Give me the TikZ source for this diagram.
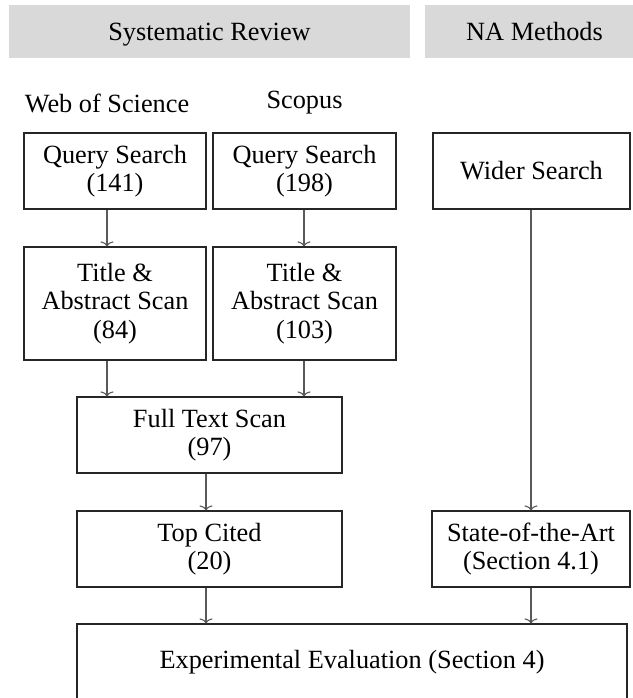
\documentclass[tikz,border=0pt]{standalone}
\usepackage{fontspec}
\setmainfont{Liberation Serif}
\usetikzlibrary{arrows.meta}
\definecolor{hdrgray}{HTML}{D9D9D9}
\begin{document}
\begin{tikzpicture}[x=1pt,y=-1pt,
  every node/.style={font=\fontsize{26.3}{28.5}\selectfont},
  hdr/.style={fill=hdrgray, draw=none, inner sep=0pt, text height=17.4pt, text depth=0pt, minimum height=53pt},
  stage/.style={draw=black!85, line width=1.1pt, fill=white, align=center, inner sep=0pt},
  arr/.style={draw=black!65, line width=1.1pt, -{To[length=5pt,width=13pt]}},
  lbl/.style={inner sep=0pt}
]
\useasboundingbox (0,0) rectangle (632,698);

% headers
\node[hdr, minimum width=401pt] (sr) at (209.5,31.5) {Systematic Review};
\node[hdr, minimum width=219pt] (na) at (534.5,31.5) {NA Methods};

% source labels
\node[lbl] (wos) at (107,103) {Web of Science};
\node[lbl] (sco) at (304.5,103) {Scopus};

% boxes
\node[stage, minimum width=182pt, minimum height=76pt] (qs1) at (115,171) {Query Search\\(141)};
\node[stage, minimum width=183pt, minimum height=76pt] (qs2) at (304.5,171) {Query Search\\(198)};
\node[stage, minimum width=197pt, minimum height=76pt] (wide) at (531.5,171) {Wider Search};
\node[stage, minimum width=182pt, minimum height=113pt] (ta1) at (115,303.5) {Title \&\\Abstract Scan\\(84)};
\node[stage, minimum width=183pt, minimum height=113pt] (ta2) at (304.5,303.5) {Title \&\\Abstract Scan\\(103)};
\node[stage, minimum width=265pt, minimum height=76pt] (ft) at (209.5,435) {Full Text Scan\\(97)};
\node[stage, minimum width=265pt, minimum height=76pt] (tc) at (209.5,549) {Top Cited\\(20)};
\node[stage, minimum width=198pt, minimum height=76pt] (sota) at (531,549) {State-of-the-Art\\(Section 4.1)};
\node[stage, minimum width=550pt, minimum height=76pt] (exp) at (352,662) {Experimental Evaluation (Section 4)};

% column coordinates
\coordinate (c1) at (107,0);
\coordinate (c2) at (304,0);
\coordinate (c3) at (531,0);
\coordinate (c4) at (206,0);

% connectors
\draw[arr] (qs1.south -| c1) -- (ta1.north -| c1);
\draw[arr] (qs2.south -| c2) -- (ta2.north -| c2);
\draw[arr] (ta1.south -| c1) -- (ft.north -| c1);
\draw[arr] (ta2.south -| c2) -- (ft.north -| c2);
\draw[arr] (ft.south -| c4) -- (tc.north -| c4);
\draw[arr] (tc.south -| c4) -- (exp.north -| c4);
\draw[arr] (wide.south -| c3) -- (sota.north -| c3);
\draw[arr] (sota.south -| c3) -- (exp.north -| c3);
\end{tikzpicture}
\end{document}
